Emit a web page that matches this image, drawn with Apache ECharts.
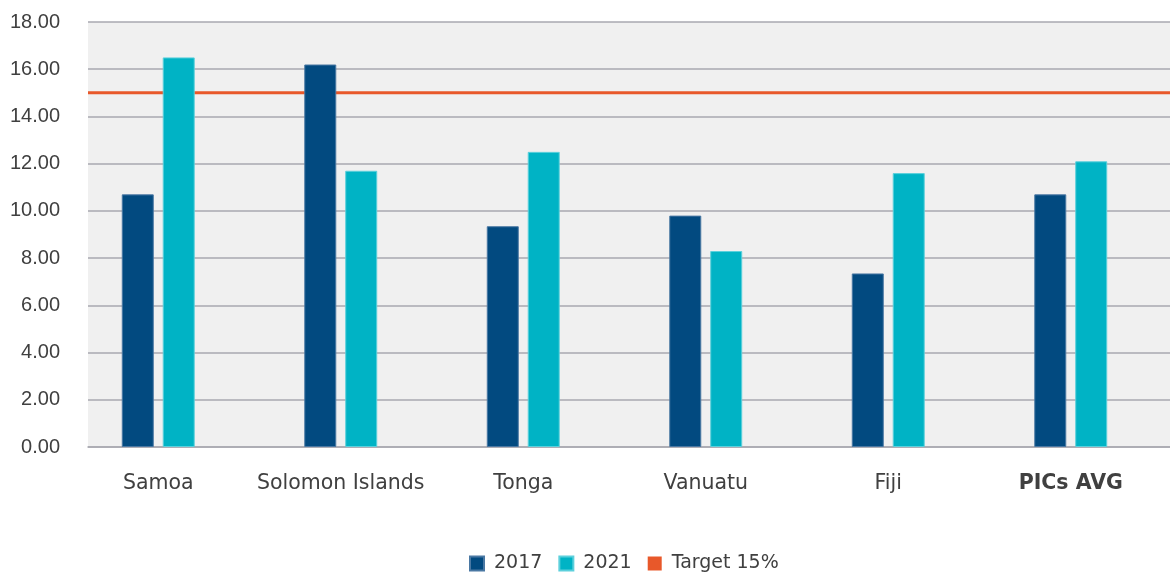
<!DOCTYPE html>
<html>
<head>
<meta charset="utf-8">
<script src="https://cdn.jsdelivr.net/npm/echarts@6/dist/echarts.min.js"></script>
<style>html,body{margin:0;padding:0;background:#fff;}#c{width:1170px;height:572px;}</style>
</head>
<body>
<div id="c"></div>
<script>
var categories = ['Samoa', 'Solomon Islands', 'Tonga', 'Vanuatu', 'Fiji', 'PICs AVG'];
var values2017 = [10.7, 16.2, 9.35, 9.8, 7.35, 10.7];
var values2021 = [16.5, 11.7, 12.5, 8.3, 11.6, 12.1];
var targetValue = 15;
var yTicks = { min: 0, max: 18, interval: 2 };
var seriesNames = ['2017', '2021', 'Target 15%'];

var chart = echarts.init(document.getElementById('c'), null, { renderer: 'canvas' });
var textColor = '#404040';
var gridColor = '#a9a9b0';

var option = {
  animation: false,
  backgroundColor: '#ffffff',
  grid: [
    { left: 67, right: 8, top: 22, bottom: 125 },
    { left: 88, right: 0, top: 22, bottom: 125, show: true, backgroundColor: '#f0f0f0', borderWidth: 0 }
  ],
  legend: {
    data: seriesNames.map(function (n) { return { name: n, icon: 'rect' }; }),
    left: 464, top: 549, padding: 5,
    itemWidth: 14, itemHeight: 14, itemGap: 16,
    textStyle: { fontFamily: 'DejaVu Sans', fontSize: 19, color: textColor, padding: [0, 0, 0, 5] }
  },
  xAxis: [
    {
      type: 'category', gridIndex: 0, data: categories,
      axisLine: { show: false }, axisTick: { show: false },
      axisLabel: {
        interval: 0, margin: 26, fontFamily: 'DejaVu Sans', fontSize: 20.5, color: textColor,
        formatter: function (v) { return v === 'PICs AVG' ? '{b|' + v + '}' : v; },
        rich: { b: { fontFamily: 'DejaVu Sans', fontSize: 20.5, color: textColor, fontWeight: 'bold' } }
      }
    },
    {
      type: 'value', gridIndex: 1, min: 0, max: 1,
      axisLine: { show: true, onZero: true, lineStyle: { color: gridColor, width: 1.5 } },
      axisTick: { show: false }, axisLabel: { show: false }, splitLine: { show: false }
    }
  ],
  yAxis: [
    { type: 'value', gridIndex: 0, min: yTicks.min, max: yTicks.max, interval: yTicks.interval, show: false, splitLine: { show: false } },
    {
      type: 'value', gridIndex: 1, min: yTicks.min, max: yTicks.max, interval: yTicks.interval,
      axisLine: { show: false }, axisTick: { show: false },
      axisLabel: { margin: 28, fontFamily: 'Liberation Sans', fontSize: 20, color: textColor,
        formatter: function (v) { return v.toFixed(2); } },
      splitLine: { show: true, lineStyle: { color: gridColor, width: 1.5 } }
    }
  ],
  series: [
    {
      name: seriesNames[0], type: 'bar', xAxisIndex: 0, yAxisIndex: 0, data: values2017,
      barWidth: 32, barGap: '28%', z: 5,
      itemStyle: { color: '#024a80', borderColor: '#4a78a3', borderWidth: 1 }
    },
    {
      name: seriesNames[1], type: 'bar', xAxisIndex: 0, yAxisIndex: 0, data: values2021,
      barWidth: 32, barGap: '28%', z: 5,
      itemStyle: { color: '#00b3c5', borderColor: '#5cd0dc', borderWidth: 1 }
    },
    {
      name: seriesNames[2], type: 'line', xAxisIndex: 1, yAxisIndex: 1,
      data: [[0, targetValue], [1, targetValue]],
      symbol: 'none', z: 1, color: '#e8582a',
      lineStyle: { color: '#e8582a', width: 3 }
    }
  ]
};
chart.setOption(option);
</script>
</body>
</html>
